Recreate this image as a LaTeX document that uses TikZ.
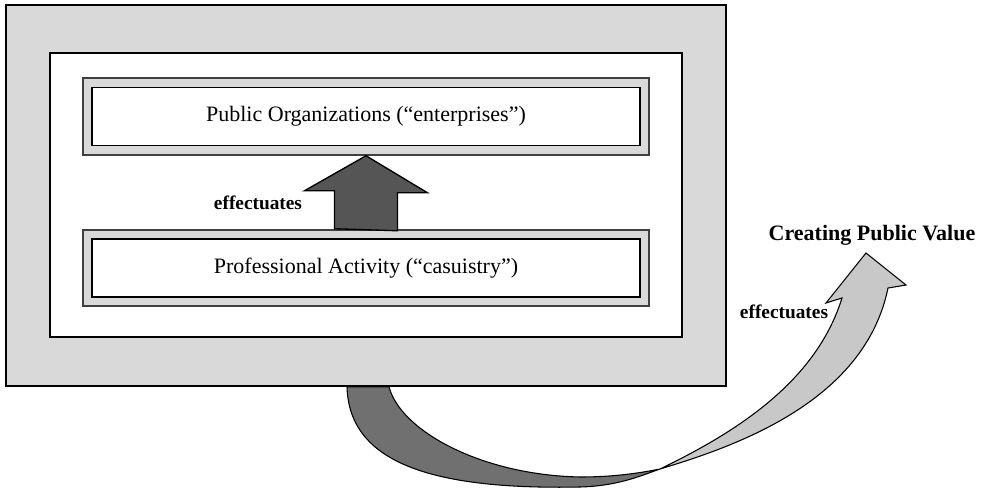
\documentclass[tikz,border=0pt]{standalone}
\usepackage{fontspec}
\setmainfont{Liberation Serif}
\usepackage{xcolor}
\definecolor{Frame}{RGB}{217,217,217}
\definecolor{Edge}{RGB}{64,64,64}
\definecolor{DarkArrow}{RGB}{85,85,85}
\definecolor{RibbonFront}{RGB}{112,112,112}
\definecolor{RibbonBack}{RGB}{200,200,200}
\definecolor{Black}{RGB}{0,0,0}
\definecolor{White}{RGB}{255,255,255}
\usetikzlibrary{calc}

\tikzset{
	panel/.style={draw=Black, line width=1.1pt, inner sep=0pt},
	shell/.style={draw=Edge, fill=Frame, line width=1.4pt, inner sep=0pt, minimum width=424.5pt, minimum height=57.5pt},
	level/.style={draw=Black, fill=White, line width=1.1pt, inner sep=0pt, minimum width=411pt, minimum height=43.5pt, font=\fontsize{16.5}{20}\selectfont},
	verb/.style={font=\fontsize{14.5}{17}\selectfont\bfseries},
}

\begin{document}
\begin{tikzpicture}[x=0.75pt, y=-0.75pt]
		\useasboundingbox (0,0) rectangle (985,488);
		
		% Blocks
		\node[panel, fill=Frame, minimum width=540pt, minimum height=285.75pt] (outer) at (366,195.5) {};
		\node[panel, fill=White, minimum width=474pt, minimum height=213pt] (inner) at (366,195) {};
		
		\node[shell] (orgframe) at (366,116.5) {};
		\node[level] (org) at (orgframe.center) {Public Organizations (“enterprises”)};
		\node[shell] (actframe) at (366,268) {};
		\node[level] (act) at (actframe.center) {Professional Activity (“casuistry”)};
		
		% Arrow between the levels
		\draw[draw=Black, fill=DarkArrow, line width=1pt] (actframe.north) ++(-31.5,0) -- ++(0,-38) -- ++(-30,0) -- (orgframe.south) -- ++(61.5,37) -- ++(-30,0) -- ++(0,38) -- cycle;
		\node[verb] (eff1) at (258,203) {effectuates};
		
		% Ribbon, front side
		\coordinate (twist) at (660,469);
		\filldraw[fill=RibbonFront, draw=Black, line width=0.8pt] ($(outer.south)+(-19,0)$) .. controls (349,462) and (430,490) .. (580,487) .. controls (620,486) and (645,474) .. (twist) .. controls (630,475) and (605,477) .. (580,477) .. controls (480,475) and (400,430) .. ($(outer.south)+(23,0)$) -- cycle;
		
		% Ribbon, back side and head
		\filldraw[fill=RibbonBack, draw=Black, line width=0.8pt] (twist) .. controls (730,435) and (815,385) .. (842,298) -- (826,303) -- (866,253) -- (906,285) -- (888,288) .. controls (865,400) and (740,445) .. (twist) -- cycle;
		
		% Names
		\node[font=\fontsize{16.5}{20}\selectfont\bfseries] (value) at (872,235) {Creating Public Value};
		\node[verb] (eff2) at (784,312) {effectuates};
		
\end{tikzpicture}
\end{document}
